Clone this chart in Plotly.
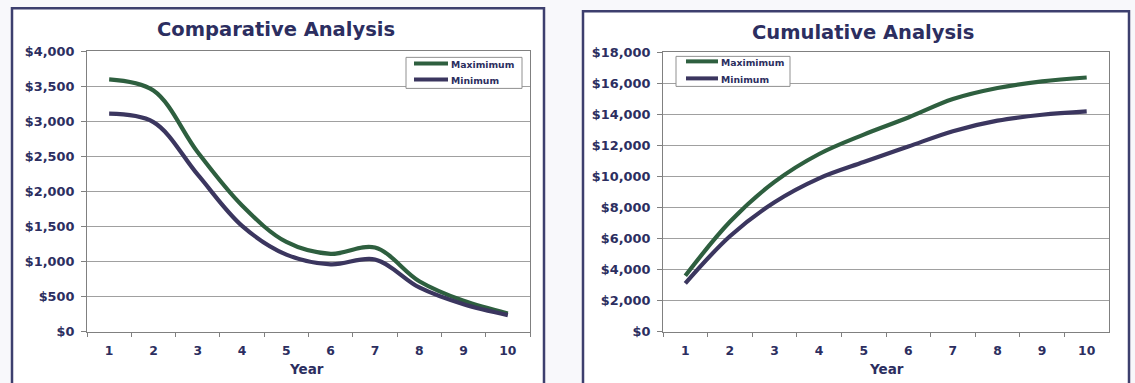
import plotly.graph_objects as go

years = ["1", "2", "3", "4", "5", "6", "7", "8", "9", "10"]

comp_max = [3600, 3440, 2560, 1800, 1280, 1110, 1200, 720, 440, 260]
comp_min = [3110, 2990, 2240, 1510, 1100, 960, 1030, 630, 390, 235]

cum_max = [3600, 7080, 9650, 11450, 12700, 13800, 14990, 15700, 16130, 16380]
cum_min = [3110, 6150, 8340, 9880, 10930, 11930, 12920, 13600, 13980, 14200]

comp_ticks = [0, 500, 1000, 1500, 2000, 2500, 3000, 3500, 4000]
cum_ticks = [0, 2000, 4000, 6000, 8000, 10000, 12000, 14000, 16000, 18000]

series_names = ["Maximimum", "Minimum"]

W, H = 1135, 383
# the page carries an 8px body margin vertically; the photographed page is fitted back to H
M = 8
SY = H / (H + 2 * M)

GREEN = "#2e5f3f"
PURPLE = "#3b365f"
NAVY = "#2c2e60"
FONT = "DejaVu Sans"
COLORS = [GREEN, PURPLE]
FS = 1.03  # font compensation

def px(x):
    return x / W

def py(y):
    return 1 - (y / SY - M) / H

fig = go.Figure()

for vals, col, nm, xa, ya in [
    (comp_max, GREEN, series_names[0], "x", "y"),
    (comp_min, PURPLE, series_names[1], "x", "y"),
    (cum_max, GREEN, series_names[0], "x2", "y2"),
    (cum_min, PURPLE, series_names[1], "x2", "y2"),
]:
    fig.add_trace(go.Scatter(x=years, y=vals, name=nm, mode="lines",
                             line=dict(color=col, width=4.2, shape="spline"),
                             xaxis=xa, yaxis=ya, showlegend=False))

def xax(domain, anchor):
    return dict(domain=domain, anchor=anchor, type="category",
                range=[-0.5, len(years) - 0.5],
                tickson="boundaries", ticks="outside", ticklen=4,
                tickcolor="#808080", showgrid=False, showline=True,
                linecolor="#808080", linewidth=1, mirror=True,
                tickfont=dict(family=FONT, size=12 * FS, color=NAVY, weight="bold"),
                ticklabelstandoff=8, fixedrange=True)

def yax(domain, anchor, tv, fmt):
    return dict(domain=domain, anchor=anchor, range=[0, tv[-1]],
                tickvals=tv, ticktext=[fmt(v) for v in tv],
                ticks="outside", ticklen=5, tickcolor="#808080",
                showgrid=True, gridcolor="#a0a0a0", gridwidth=1,
                showline=True, linecolor="#808080", linewidth=1, mirror=True,
                zeroline=False,
                tickfont=dict(family=FONT, size=12.5 * FS, color=NAVY, weight="bold"),
                ticklabelstandoff=4, fixedrange=True)

fmt = lambda v: "${:,}".format(v)

fig.update_layout(
    width=W, height=H,
    margin=dict(l=0, r=0, t=0, b=0),
    paper_bgcolor="#f8f8fb",
    plot_bgcolor="white",
    showlegend=False,
    xaxis=xax([px(87), px(530)], "y"),
    yaxis=yax([py(332), py(52)], "x", comp_ticks, fmt),
    xaxis2=xax([px(663), px(1109)], "y2"),
    yaxis2=yax([py(332), py(53)], "x2", cum_ticks, fmt),
)

shapes = [
    # panels
    dict(type="rect", xref="paper", yref="paper", x0=px(12), x1=px(544), y0=-0.03, y1=py(9),
         line=dict(color="#3d3f6e", width=2.5), fillcolor="white", layer="below"),
    dict(type="rect", xref="paper", yref="paper", x0=px(583), x1=px(1129), y0=-0.03, y1=py(12),
         line=dict(color="#3d3f6e", width=2.5), fillcolor="white", layer="below"),
]

annotations = [
    dict(text="Comparative Analysis", x=px(276), y=py(30), xref="paper", yref="paper",
         showarrow=False, xanchor="center", yanchor="middle",
         font=dict(family=FONT, size=19.5, color=NAVY, weight="bold")),
    dict(text="Cumulative Analysis", x=px(863), y=py(33), xref="paper", yref="paper",
         showarrow=False, xanchor="center", yanchor="middle",
         font=dict(family=FONT, size=19.5, color=NAVY, weight="bold")),
    dict(text="Year", x=px(306), y=py(369), xref="paper", yref="paper",
         showarrow=False, xanchor="center", yanchor="middle",
         font=dict(family=FONT, size=13.5, color=NAVY, weight="bold")),
    dict(text="Year", x=px(886), y=py(369), xref="paper", yref="paper",
         showarrow=False, xanchor="center", yanchor="middle",
         font=dict(family=FONT, size=13.5, color=NAVY, weight="bold")),
]

# legends (box, line samples, labels) for each panel
legend_boxes = [
    dict(x0=406, x1=522, y0=58, y1=89, lx0=414, lx1=448, ly=[64, 80]),
    dict(x0=676, x1=790, y0=57, y1=87, lx0=686, lx1=718, ly=[62, 79]),
]
for lb in legend_boxes:
    shapes.append(dict(type="rect", xref="paper", yref="paper",
                       x0=px(lb["x0"]), x1=px(lb["x1"]), y0=py(lb["y1"]), y1=py(lb["y0"]),
                       line=dict(color="#909090", width=1), fillcolor="white"))
    for nm, col, yy in zip(series_names, COLORS, lb["ly"]):
        shapes.append(dict(type="line", xref="paper", yref="paper",
                           x0=px(lb["lx0"]), x1=px(lb["lx1"]), y0=py(yy), y1=py(yy),
                           line=dict(color=col, width=4)))
        annotations.append(dict(text=nm, x=px(lb["lx1"] + 1), y=py(yy + 1),
                                xref="paper", yref="paper", showarrow=False,
                                xanchor="left", yanchor="middle",
                                font=dict(family=FONT, size=9 * FS, color=NAVY, weight="bold")))

fig.update_layout(shapes=shapes, annotations=annotations)

fig.write_html("out.html", config=dict(displayModeBar=False))
